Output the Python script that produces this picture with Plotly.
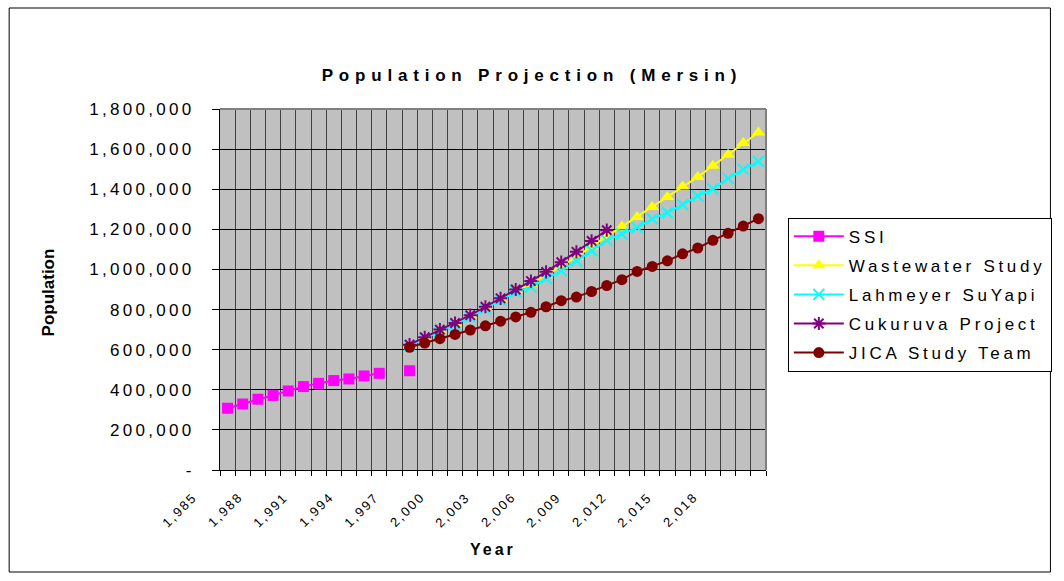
import plotly.graph_objects as go

# --- data -------------------------------------------------------------
ssi_years = [1985, 1986, 1987, 1988, 1989, 1990, 1991, 1992, 1993, 1994, 1995, 1996, 1997]
ssi_pop = [308000, 329000, 353000, 372000, 394000, 416000, 432000, 446000, 454000, 469000,
           482000, None, 495000]

proj_years = list(range(1997, 2021))
wastewater_pop = [620000, 660000, 697000, 730000, 770000, 811000, 852000, 895000, 928000,
                  972000, 1015000, 1062000, 1115000, 1165000, 1214000, 1261000, 1311000,
                  1361000, 1414000, 1461000, 1517000, 1572000, 1630000, 1683000]
lahmeyer_pop = [620000, 655000, 690000, 724000, 763000, 806000, 847000, 888000, 912000,
                955000, 994000, 1042000, 1094000, 1145000, 1177000, 1209000, 1252000,
                1283000, 1323000, 1366000, 1401000, 1454000, 1499000, 1539000]
cukuruva_years = list(range(1997, 2011))
cukuruva_pop = [625000, 662000, 700000, 733000, 772000, 814000, 856000, 900000, 942000,
                988000, 1036000, 1088000, 1142000, 1196000]
jica_pop = [612000, 633000, 655000, 676000, 698000, 719000, 742000, 763000, 786000, 814000,
            844000, 862000, 890000, 920000, 949000, 990000, 1015000, 1043000, 1078000,
            1107000, 1145000, 1180000, 1216000, 1253000]

first_year, last_year = 1985, 2020
label_years = list(range(1985, 2019, 3))
y_ticks = [0, 200000, 400000, 600000, 800000, 1000000, 1200000, 1400000, 1600000, 1800000]

FONT = "Arial, Liberation Sans, sans-serif"


def spaced(text, px):
    return f'<span style="letter-spacing:{px}px">{text}</span>'


fig = go.Figure()

series = [
    ("SSI", ssi_years, ssi_pop, "#FF00FF", dict(symbol="square", size=11)),
    ("Wastewater Study", proj_years, wastewater_pop, "#FFFF00", dict(symbol="triangle-up", size=12)),
    ("Lahmeyer SuYapi", proj_years, lahmeyer_pop, "#00FFFF",
     dict(symbol="x-thin-open", size=11, line=dict(width=2, color="#00FFFF"))),
    ("Cukuruva Project", cukuruva_years, cukuruva_pop, "#800080",
     dict(symbol="asterisk-open", size=11, line=dict(width=2, color="#800080"))),
    ("JICA Study Team", proj_years, jica_pop, "#800000", dict(symbol="circle", size=11)),
]
for i, (name, xs, ys, color, marker) in enumerate(series):
    fig.add_trace(go.Scatter(
        x=xs, y=ys, name=spaced(name, 3.7), mode="lines+markers",
        line=dict(color=color, width=2), marker=dict(color=color, **marker),
        connectgaps=False, legendgroup=f"g{i}",
    ))

half = 0.5
x_lo, x_hi = first_year - half, last_year + half
boundaries = [y - half for y in range(first_year, last_year + 2)]

fig.update_layout(
    width=1064, height=581,
    margin=dict(l=220, r=295, t=109, b=111),
    paper_bgcolor="white", plot_bgcolor="#C0C0C0",
    font=dict(family=FONT, size=17, color="black"),
    title=dict(text=f"<b>{spaced('Population Projection (Mersin)', 5.8)}</b>",
               x=0.5, xref="container", xanchor="center",
               y=1 - 75 / 581, yanchor="middle", yref="container",
               font=dict(family=FONT, size=17)),
    xaxis=dict(range=[x_lo, x_hi],
               tickvals=boundaries, showticklabels=False,
               ticks="outside", ticklen=5, tickcolor="black",
               showgrid=True, gridcolor="#404040", gridwidth=1,
               showline=True, linecolor="black", linewidth=1, zeroline=False),
    yaxis=dict(range=[0, 1800000], tickvals=y_ticks,
               ticktext=[spaced("-" if v == 0 else f"{v:,}", 3.3) for v in y_ticks],
               ticks="outside", ticklen=7, tickcolor="black",
               showgrid=True, gridcolor="black", gridwidth=1,
               showline=True, linecolor="black", linewidth=1, zeroline=False,
               ticklabelstandoff=14),
    legend=dict(x=1.04, y=0.699, xanchor="left", yanchor="top",
                bgcolor="white", bordercolor="black", borderwidth=1,
                font=dict(family=FONT, size=17), tracegroupgap=4, itemwidth=50),
    showlegend=True,
)

# year labels, rotated 45 degrees, ending a little left of their category
for yr in label_years:
    fig.add_annotation(text=spaced(f"{yr:,}", 2), textangle=-45,
                       x=(yr - 1.6 - x_lo) / (x_hi - x_lo), xref="paper",
                       y=(470 - 486) / 361, yref="paper",
                       xanchor="right", yanchor="top", showarrow=False,
                       font=dict(family=FONT, size=13))

# axis titles
fig.add_annotation(text="<b>Population</b>", textangle=-90, xref="paper", yref="paper",
                   x=(48 - 220) / 549, y=(470 - 292.5) / 361, showarrow=False,
                   xanchor="center", yanchor="middle",
                   font=dict(family=FONT, size=17))
fig.add_annotation(text=f"<b>{spaced('Year', 3)}</b>", xref="paper", yref="paper",
                   x=(494 - 220) / 549, y=(470 - 549) / 361, showarrow=False,
                   xanchor="center", yanchor="middle",
                   font=dict(family=FONT, size=16))

# plot frame (top/right) and outer chart border
fig.add_shape(type="line", xref="paper", yref="paper", x0=0, x1=1, y0=1, y1=1,
              line=dict(color="#808080", width=2), layer="above")
fig.add_shape(type="line", xref="paper", yref="paper", x0=1, x1=1, y0=0, y1=1,
              line=dict(color="#808080", width=2), layer="above")
fig.add_shape(type="rect", xref="paper", yref="paper",
              x0=(8 - 220) / 549, x1=(1055 - 220) / 549,
              y0=(470 - 572) / 361, y1=(470 - 8) / 361,
              line=dict(color="black", width=1), fillcolor="rgba(0,0,0,0)", layer="below")

fig.write_html("out.html")
